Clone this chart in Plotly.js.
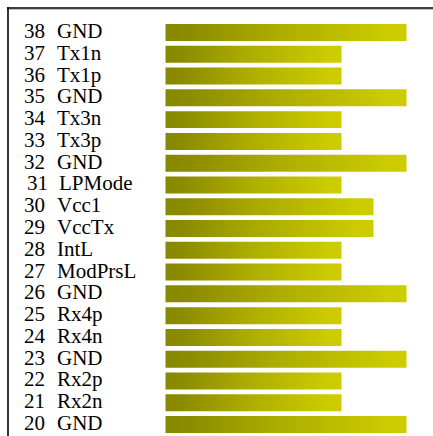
<!DOCTYPE html>
<html>
<head>
<meta charset="utf-8">
<script src="https://cdn.plot.ly/plotly-3.0.1.min.js"></script>
<style>html,body{margin:0;padding:0;background:#fff;}#chart{width:433px;height:436px;}</style>
</head>
<body>
<div id="chart"></div>
<script>
// Pin numbers and names (top to bottom)
const pins = [38, 37, 36, 35, 34, 33, 32, 31, 30, 29, 28, 27, 26, 25, 24, 23, 22, 21, 20];
const names = ["GND", "Tx1n", "Tx1p", "GND", "Tx3n", "Tx3p", "GND", "LPMode", "Vcc1", "VccTx", "IntL", "ModPrsL", "GND", "Rx4p", "Rx4n", "GND", "Rx2p", "Rx2n", "GND"];
// Bar lengths (relative units)
const lengths = [241, 176, 176, 241, 176, 176, 241, 176, 208, 208, 176, 176, 241, 176, 176, 241, 176, 176, 241];

const W = 433, H = 436;
const half = 0.39;
const gradScale = [[0, '#888800'], [0.1, '#8c8c00'], [0.45, '#abab00'], [0.93, '#cccc00'], [1, '#cccc00']];

const traces = pins.map((p, i) => ({
  type: 'scatter', mode: 'none',
  x: [0, lengths[i], lengths[i], 0, 0],
  y: [p - half, p - half, p + half, p + half, p - half],
  fill: 'toself',
  fillgradient: {type: 'horizontal', colorscale: gradScale},
  hoverinfo: 'skip', showlegend: false
}));

const font = {family: 'Liberation Serif', size: 21, color: '#000'};
const annotations = [];
pins.forEach((p, i) => {
  const off = (p === 31) ? 2.5 : 0;
  annotations.push({xref: 'paper', yref: 'y', x: (23 + off) / W, y: p, xanchor: 'left', yanchor: 'middle', yshift: 1.5,
    borderpad: 0, text: String(p), showarrow: false, font: font});
  annotations.push({xref: 'paper', yref: 'y', x: (55.7 + off) / W, y: p, xanchor: 'left', yanchor: 'middle', yshift: 1.5,
    borderpad: 0, text: names[i], showarrow: false, font: font});
});

const pxPerUnit = 21.78;
const yMax = 38 + 32.5 / pxPerUnit;
const yMin = yMax - H / pxPerUnit;
const x0px = 165.5;

const layout = {
  width: W, height: H,
  margin: {l: 0, r: 0, t: 0, b: 0, pad: 0},
  paper_bgcolor: '#fff', plot_bgcolor: '#fff',
  xaxis: {range: [-x0px, W - x0px], visible: false, fixedrange: true},
  yaxis: {range: [yMin, yMax], visible: false, fixedrange: true},
  annotations: annotations,
  shapes: [
    {type: 'line', xref: 'paper', yref: 'paper', x0: 7 / W, x1: 1.05, y0: 1 - 9.3 / H, y1: 1 - 9.3 / H, line: {color: '#b0b0b0', width: 1}},
    {type: 'line', xref: 'paper', yref: 'paper', x0: 7 / W, x1: 1.05, y0: 1 - 8 / H, y1: 1 - 8 / H, line: {color: '#000', width: 1.6}},
    {type: 'line', xref: 'paper', yref: 'paper', x0: 8 / W, x1: 8 / W, y0: -0.05, y1: 1 - 7.2 / H, line: {color: '#000', width: 1.6}}
  ]
};

Plotly.newPlot('chart', traces, layout, {staticPlot: true, displayModeBar: false});
</script>
</body>
</html>
